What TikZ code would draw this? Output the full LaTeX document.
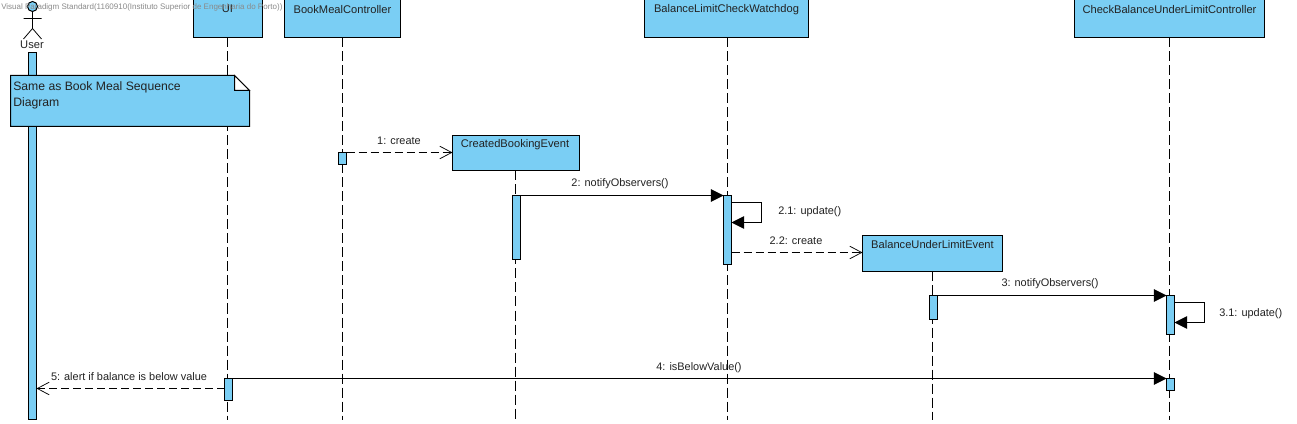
\documentclass[tikz,border=0pt]{standalone}
\usepackage{fontspec}
\setmainfont{Liberation Sans}
\usetikzlibrary{arrows.meta}
\definecolor{umlfill}{HTML}{7ACEF4}
\definecolor{umltext}{HTML}{222222}
\definecolor{marktext}{HTML}{8A8A8A}
\newlength{\pxu}\setlength{\pxu}{0.75pt}
\tikzset{
  x=0.75pt,y=-0.75pt,
  lifebox/.style={draw=black,fill=umlfill,line width=0.75pt,anchor=north west,inner sep=0pt,outer sep=0pt},
  barbox/.style={draw=black,fill=umlfill,line width=0.75pt,inner sep=0pt,outer sep=0pt,anchor=north west,minimum width=8\pxu},
  lifeline/.style={draw=black,line width=0.75pt,dash pattern=on 7.5pt off 3pt},
  sync/.style={draw=black,line width=0.75pt,-{Triangle[length=9.5pt,width=9.5pt]}},
  reply/.style={draw=black,line width=0.75pt,dash pattern=on 6pt off 3pt,-{Straight Barb[length=9pt,width=9.5pt,line width=0.55pt]}},
  msg/.style={text=umltext,font=\fontsize{8.2}{10}\selectfont,inner sep=0pt},
}
\newcommand{\lbox}[6]{\node[lifebox,minimum width=#3\pxu,minimum height=#4\pxu] (#1) at (#2) {};
  \node[text=umltext,font=\fontsize{8.35}{10}\selectfont,inner sep=0pt] (#1t) at (#5) {#6};}
\begin{document}
\begin{tikzpicture}
\useasboundingbox (0,0) rectangle (1297,424);
\fill[white] (0,0) rectangle (1297,424);
% lifeline heads
\lbox{ui}{193.5,-3.5}{69}{41}{227.5,9}{UI}
\lbox{bmc}{284.5,-3.5}{116}{41}{342.5,10}{BookMealController}
\lbox{cbe}{452.5,135.5}{127}{35}{515,144.5}{CreatedBookingEvent}
\lbox{wd}{644.5,-3.5}{164}{41}{726.5,10}{BalanceLimitCheckWatchdog}
\lbox{bul}{862.5,235.5}{140}{36}{932.5,244.5}{BalanceUnderLimitEvent}
\lbox{cc}{1074.5,-3.5}{190}{41}{1169.5,10}{CheckBalanceUnderLimitController}
% actor
\node[draw=black,fill=umlfill,circle,line width=0.75pt,minimum size=10\pxu,inner sep=0pt] (head) at (32.5,6.5) {};
\coordinate (hip) at (32.5,28.5);
\coordinate (armL) at (23.5,18.5);
\coordinate (armR) at (41.5,18.5);
\coordinate (legL) at (23.5,39);
\coordinate (legR) at (41.5,39);
\draw[line width=0.6pt] (head.south) -- (hip) (armL) -- (armR) (legL) -- (hip) -- (legR);
\node[text=umltext,font=\fontsize{8.35}{10}\selectfont,inner sep=0pt] (user) at (32,45) {User};
% lifelines
\coordinate (uiEnd) at (227.5,420);
\coordinate (bmcEnd) at (342.5,420);
\coordinate (cbeEnd) at (515.5,420);
\coordinate (wdEnd) at (727.5,420);
\coordinate (bulEnd) at (932.5,420);
\coordinate (ccEnd) at (1169.5,420);
\draw[lifeline] (ui.south -| uiEnd) -- (uiEnd);
\draw[lifeline] (bmc.south -| bmcEnd) -- (bmcEnd);
\draw[lifeline] (cbe.south -| cbeEnd) -- (cbeEnd);
\draw[lifeline] (wd.south -| wdEnd) -- (wdEnd);
\draw[lifeline] (bul.south -| bulEnd) -- (bulEnd);
\draw[lifeline] (cc.south -| ccEnd) -- (ccEnd);
% activation bars
\node[barbox,minimum height=367\pxu] (aUser) at (28.5,52.5) {};
\node[barbox,minimum height=12\pxu] (aBmc) at (338.5,152.5) {};
\node[barbox,minimum height=64\pxu] (aCbe) at (512.5,195.5) {};
\node[barbox,minimum height=69\pxu] (aWd) at (723.5,195.5) {};
\node[barbox,minimum height=24\pxu] (aBul) at (929.5,295.5) {};
\node[barbox,minimum height=39\pxu] (aCc) at (1166.5,295.5) {};
\node[barbox,minimum height=12\pxu] (aCc2) at (1166.5,378.5) {};
\node[barbox,minimum height=22\pxu] (aUi) at (224.5,378.5) {};
% note
\draw[line width=0.75pt,fill=umlfill] (10.5,75.5) -- (234.5,75.5) -- (249.5,90.5) -- (249.5,126.5) -- (10.5,126.5) -- cycle;
\draw[line width=0.75pt,fill=white] (234.5,75.5) -- (249.5,90.5) -- (234.5,90.5) -- cycle;
\node[anchor=west,text=umltext,font=\fontsize{9.15}{12}\selectfont,inner sep=0pt] (note) at (13,87) {Same as Book Meal Sequence};
\node[anchor=west,text=umltext,font=\fontsize{9.15}{12}\selectfont,inner sep=0pt] (note2) at (13,103) {Diagram};
% messages
\draw[reply] (aBmc.north east) -- (cbe.west |- aBmc.north);
\node[msg] (m1) at (399,141) {1: create};
\draw[sync] (aCbe.north east) -- (aWd.north west);
\node[msg] (m2) at (620,184) {2: notifyObservers()};
\coordinate (w1) at (761.5,202.5);
\coordinate (w2) at (761.5,222.5);
\draw[sync] (aWd.east |- w1) -- (w1) -- (w2) -- (aWd.east |- w2);
\node[msg,anchor=west] (m21) at (778,212) {2.1: update()};
\coordinate (y22) at (0,252.5);
\draw[reply] (aWd.east |- y22) -- (bul.west |- y22);
\node[msg] (m22) at (796,241) {2.2: create};
\draw[sync] (aBul.north east) -- (aCc.north west);
\node[msg] (m3) at (1050,284) {3: notifyObservers()};
\coordinate (c1) at (1204.5,302.5);
\coordinate (c2) at (1204.5,322.5);
\draw[sync] (aCc.east |- c1) -- (c1) -- (c2) -- (aCc.east |- c2);
\node[msg,anchor=west] (m31) at (1219,314) {3.1: update()};
\draw[sync] (aUi.north east) -- (aCc2.north west);
\node[msg] (m4) at (699,368) {4: isBelowValue()};
\coordinate (y5) at (0,388.5);
\draw[reply] (aUi.west |- y5) -- (aUser.east |- y5);
\node[msg] (m5) at (129,377) {5: alert if balance is below value};
% watermark
\node[anchor=west,text=marktext,font=\fontsize{6}{7}\selectfont,inner sep=0pt] (mark) at (1,7) {Visual Paradigm Standard(1160910(Instituto Superior de Engenharia do Porto))};
\end{tikzpicture}
\end{document}
